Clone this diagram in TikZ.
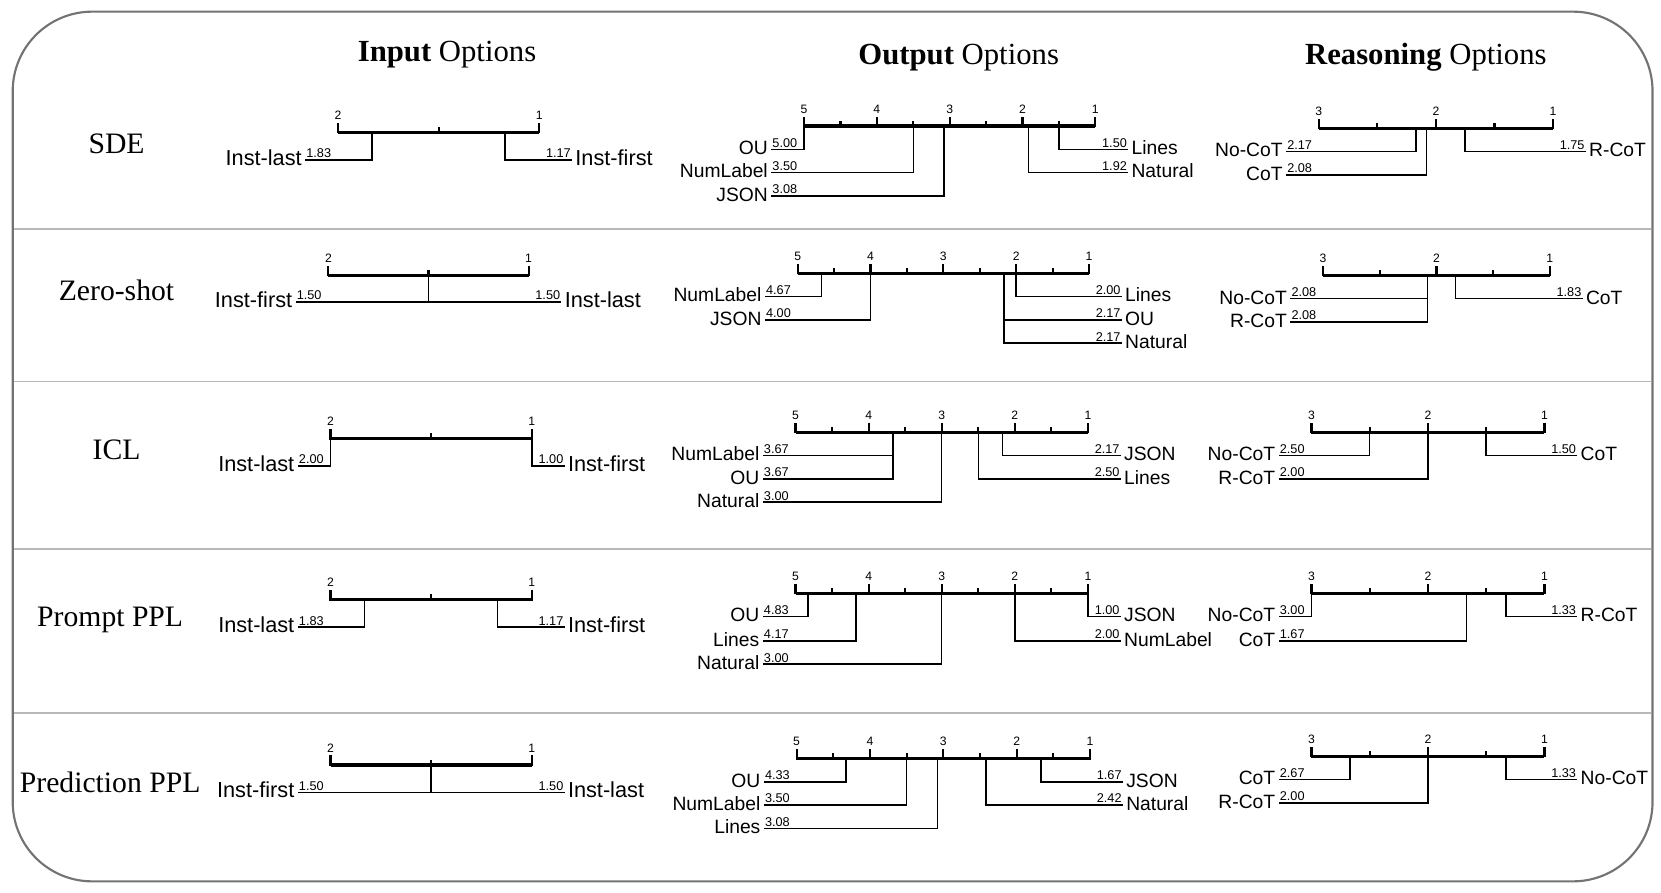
\documentclass[tikz,border=0pt]{standalone}
\usepackage{fontspec}
\newfontfamily\arial{Liberation Sans}
\newfontfamily\serifa{Liberation Serif}

% Eje de rangos: prefijo, x izquierda, x derecha, y, rango maximo
\newcommand{\eje}[5]{%
  \xdef\ejeL{#2}\xdef\ejeR{#3}\xdef\ejeY{#4}\xdef\ejeK{#5}%
  \pgfmathsetmacro{\paso}{(#3-#2)/(#5-1)}\xdef\ejeP{\paso}%
  \draw[eje] (#2,#4) -- (#3,#4);
  \foreach \k in {1,...,#5}{
    \pgfmathsetmacro{\xk}{#2+(#5-\k)*\paso}
    \draw[marca] (\xk,#4+1) -- (\xk,#4-9) node[numeje] (#1-t\k) {\k};
  }
  \foreach \k in {2,...,#5}{
    \pgfmathsetmacro{\xk}{#2+(#5-\k+0.5)*\paso}
    \draw[marca] (\xk,#4) -- (\xk,#4-5);
  }
}

% Rama hacia la izquierda: nombre, rango, bajada, metodo
\newcommand{\ramaizq}[4]{%
  \pgfmathsetmacro{\xrama}{\ejeL+(\ejeK-#2)*\ejeP}
  \pgfmathsetmacro{\xfin}{\ejeL-31}
  \pgfmathsetmacro{\yfin}{\ejeY+#3}
  \coordinate (#1-eje) at (\xrama,\ejeY);
  \coordinate (#1-fin) at (\xfin,\yfin);
  \node[metodo, anchor=base east] (#1) at (\xfin-3,\yfin+5) {#4};
  \node[valor, anchor=base west] (#1-val) at (\xfin+1,\yfin-2) {#2};
  \draw[rama] (#1-eje) |- (#1-fin);
}

% Rama hacia la derecha: nombre, rango, bajada, metodo
\newcommand{\ramader}[4]{%
  \pgfmathsetmacro{\xrama}{\ejeL+(\ejeK-#2)*\ejeP}
  \pgfmathsetmacro{\xfin}{\ejeR+31}
  \pgfmathsetmacro{\yfin}{\ejeY+#3}
  \coordinate (#1-eje) at (\xrama,\ejeY);
  \coordinate (#1-fin) at (\xfin,\yfin);
  \node[metodo, anchor=base west] (#1) at (\xfin+3,\yfin+5) {#4};
  \node[valor, anchor=base east] (#1-val) at (\xfin-1,\yfin-2) {#2};
  \draw[rama] (#1-eje) |- (#1-fin);
}

\begin{document}
\begin{tikzpicture}[x=1pt, y=-1pt,
    eje/.style={line width=3pt},
    marca/.style={line width=2pt},
    rama/.style={line width=1.4pt},
    numeje/.style={anchor=south, inner sep=2pt, font=\arial\fontsize{11.5}{12}\selectfont},
    metodo/.style={inner sep=0pt, font=\arial\fontsize{18.2}{19}\selectfont},
    valor/.style={inner sep=0pt, font=\arial\fontsize{12}{12}\selectfont},
    titulo/.style={font=\serifa\fontsize{29}{30}\selectfont},
    fila/.style={font=\serifa\fontsize{28}{29}\selectfont}]
    \useasboundingbox (0,0) rectangle (1568,843);

    % Marco y separadores
    \draw[black!55, line width=2pt, rounded corners=75pt] (12,11) rectangle (1560,832);
    \foreach \y in {216,360,518,673}
      \draw[black!28, line width=1.5pt] (13,\y) -- (1559,\y);

    % Titulos
    \node[titulo] (tin) at (422,52) {\textbf{Input} Options};
    \node[titulo] (tout) at (905,54) {\textbf{Output} Options};
    \node[titulo] (traz) at (1346,54) {\textbf{Reasoning} Options};

    % Filas
    \node[fila] (f1) at (110,136) {SDE};
    \node[fila] (f2) at (110,274) {Zero-shot};
    \node[fila] (f3) at (110,425) {ICL};
    \node[fila] (f4) at (104,585) {Prompt PPL};
    \node[fila] (f5) at (104,739) {Prediction PPL};

    % Input
    \begin{scope}[metodo/.append style={font=\arial\fontsize{20.5}{21}\selectfont},
                  eje/.append style={line width=3.5pt}]
    \eje{in1}{319}{509}{125}{2}
    \ramaizq{in1L1}{1.83}{26}{Inst-last}
    \ramader{in1R1}{1.17}{26}{Inst-first}
    \eje{in2}{310}{499}{260}{2}
    \ramaizq{in2L1}{1.50}{25}{Inst-first}
    \ramader{in2R1}{1.50}{25}{Inst-last}
    \eje{in3}{312}{502}{414}{2}
    \ramaizq{in3L1}{2.00}{26}{Inst-last}
    \ramader{in3R1}{1.00}{26}{Inst-first}
    \eje{in4}{312}{502}{566}{2}
    \ramaizq{in4L1}{1.83}{26}{Inst-last}
    \ramader{in4R1}{1.17}{26}{Inst-first}
    \eje{in5}{312}{502}{722}{2}
    \ramaizq{in5L1}{1.50}{26}{Inst-first}
    \ramader{in5R1}{1.50}{26}{Inst-last}
    \end{scope}

    % Output
    \eje{out1}{759}{1034}{119}{5}
    \ramaizq{out1L1}{5.00}{22}{OU}
    \ramaizq{out1L2}{3.50}{44}{NumLabel}
    \ramaizq{out1L3}{3.08}{66}{JSON}
    \ramader{out1R1}{1.50}{22}{Lines}
    \ramader{out1R2}{1.92}{44}{Natural}
    \eje{out2}{753}{1028}{258}{5}
    \ramaizq{out2L1}{4.67}{22}{NumLabel}
    \ramaizq{out2L2}{4.00}{44}{JSON}
    \ramader{out2R1}{2.00}{22}{Lines}
    \ramader{out2R2}{2.17}{44}{OU}
    \ramader{out2R3}{2.17}{66}{Natural}
    \eje{out3}{751}{1027}{408}{5}
    \ramaizq{out3L1}{3.67}{22}{NumLabel}
    \ramaizq{out3L2}{3.67}{44}{OU}
    \ramaizq{out3L3}{3.00}{66}{Natural}
    \ramader{out3R1}{2.17}{22}{JSON}
    \ramader{out3R2}{2.50}{44}{Lines}
    \eje{out4}{751}{1027}{560}{5}
    \ramaizq{out4L1}{4.83}{22}{OU}
    \ramaizq{out4L2}{4.17}{45}{Lines}
    \ramaizq{out4L3}{3.00}{67}{Natural}
    \ramader{out4R1}{1.00}{22}{JSON}
    \ramader{out4R2}{2.00}{45}{NumLabel}
    \eje{out5}{752}{1029}{716}{5}
    \ramaizq{out5L1}{4.33}{22}{OU}
    \ramaizq{out5L2}{3.50}{44}{NumLabel}
    \ramaizq{out5L3}{3.08}{66}{Lines}
    \ramader{out5R1}{1.67}{22}{JSON}
    \ramader{out5R2}{2.42}{44}{Natural}

    % Reasoning
    \eje{raz1}{1245}{1466}{121}{3}
    \ramaizq{raz1L1}{2.17}{22}{No-CoT}
    \ramaizq{raz1L2}{2.08}{44}{CoT}
    \ramader{raz1R1}{1.75}{22}{R-CoT}
    \eje{raz2}{1249}{1463}{260}{3}
    \ramaizq{raz2L1}{2.08}{22}{No-CoT}
    \ramaizq{raz2L2}{2.08}{44}{R-CoT}
    \ramader{raz2R1}{1.83}{22}{CoT}
    \eje{raz3}{1238}{1458}{408}{3}
    \ramaizq{raz3L1}{2.50}{22}{No-CoT}
    \ramaizq{raz3L2}{2.00}{44}{R-CoT}
    \ramader{raz3R1}{1.50}{22}{CoT}
    \eje{raz4}{1238}{1458}{560}{3}
    \ramaizq{raz4L1}{3.00}{22}{No-CoT}
    \ramaizq{raz4L2}{1.67}{45}{CoT}
    \ramader{raz4R1}{1.33}{22}{R-CoT}
    \eje{raz5}{1238}{1458}{714}{3}
    \ramaizq{raz5L1}{2.67}{22}{CoT}
    \ramaizq{raz5L2}{2.00}{44}{R-CoT}
    \ramader{raz5R1}{1.33}{22}{No-CoT}
\end{tikzpicture}
\end{document}
